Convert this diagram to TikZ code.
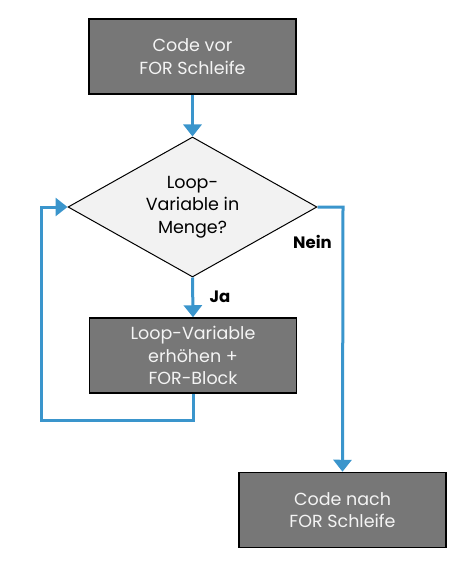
\documentclass[tikz,border=0pt]{standalone}
\usepackage{fontspec}
\setmainfont{Poppins}
\usetikzlibrary{arrows.meta,shapes.geometric}
\definecolor{boxgray}{HTML}{777777}
\definecolor{dia}{HTML}{F2F2F2}
\definecolor{flow}{HTML}{3A95CC}
\definecolor{boxtext}{HTML}{F4F4F4}
\tikzset{
  procbox/.style={draw=black, line width=1.5pt, fill=boxgray, text=boxtext,
    minimum width=207pt, minimum height=75pt, inner sep=0pt, align=center,
    font=\fontsize{17.5}{22.5}\selectfont},
  decision/.style={diamond, draw=black, line width=1pt, fill=dia, inner sep=0pt,
    minimum width=249pt, minimum height=140pt, aspect=1.78, align=center,
    font=\fontsize{17.5}{22.5}\selectfont},
  flowline/.style={draw=flow, line width=3pt},
  flowarrow/.style={flowline, -{Triangle[width=18pt,length=12pt]}},
  lbl/.style={font=\bfseries\fontsize{16.5}{18}\selectfont, text=black, inner sep=0pt}
}
\begin{document}
\begin{tikzpicture}[x=1pt,y=-1pt]
\useasboundingbox (0,0) rectangle (463,561);
\node[procbox] (start) at (192.5,56.5) {Code vor\\FOR Schleife};
\node[decision] (cond) at (192.5,207) {Loop-\\Variable in\\Menge?};
\node[procbox] (body) at (193,355.5) {Loop-Variable\\erhöhen +\\FOR-Block};
\node[procbox] (end) at (342.5,510) {Code nach\\FOR Schleife};
\coordinate (lb) at (41,420);
\coordinate (lt) at (41,207);
\coordinate (rt) at (343,207);
\draw[flowarrow] (start.south) -- (cond.north);
\draw[flowarrow] (cond.south) -- (body.north);
\draw[flowarrow, line join=miter] (body.south) -- (body.south |- lb) -- (lb) -- (lt) -- (cond.west);
\draw[flowarrow, line join=miter] (cond.east) -- (rt) -- (end.north);
\node[lbl] (ja) at (220,297) {Ja};
\node[lbl] (nein) at (312.5,242) {Nein};
\end{tikzpicture}
\end{document}
